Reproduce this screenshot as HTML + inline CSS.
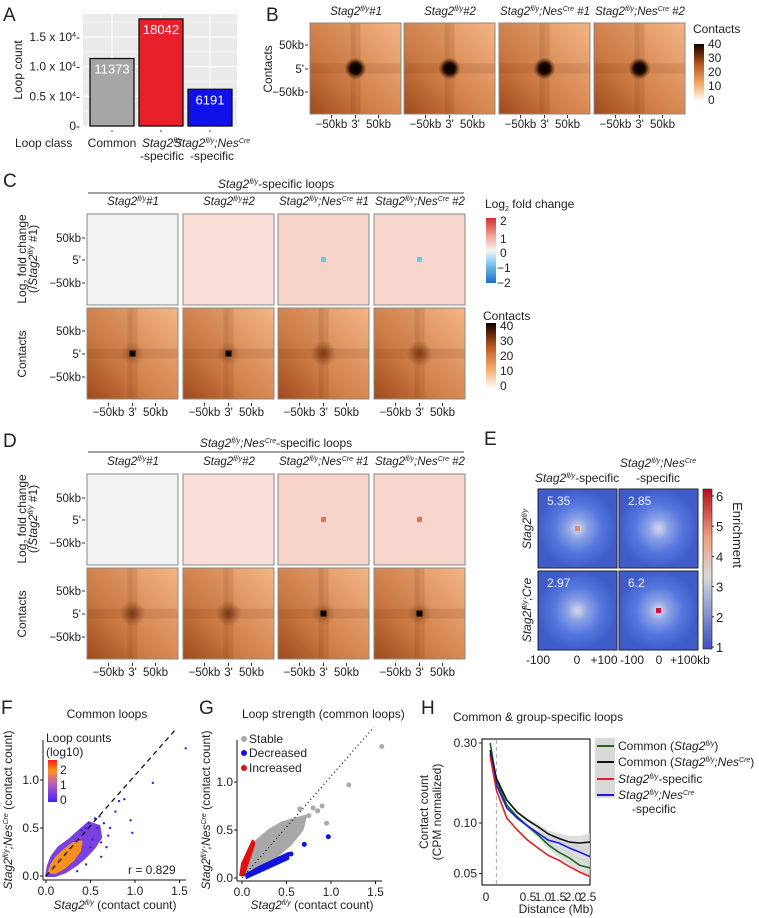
<!DOCTYPE html>
<html><head><meta charset="utf-8"><style>
html,body{margin:0;padding:0;background:#fff;}
svg{display:block;font-family:"Liberation Sans",Arial,sans-serif;}
.sp{font-size:7px;}
.it{font-style:italic;}
</style></head><body>
<svg id="fig" width="759" height="918" viewBox="0 0 759 918" xmlns="http://www.w3.org/2000/svg">
<defs>
<linearGradient id="gContact" x1="0" y1="1" x2="1" y2="0">
<stop offset="0" stop-color="#a24c1f"/><stop offset="0.35" stop-color="#d07d45"/><stop offset="1" stop-color="#f3b687"/></linearGradient>
<radialGradient id="gDot"><stop offset="0" stop-color="#000"/><stop offset="0.5" stop-color="#1a0800"/><stop offset="1" stop-color="#5a2408" stop-opacity="0"/></radialGradient>
<radialGradient id="gDotWeak"><stop offset="0" stop-color="#6a2a0a" stop-opacity="0.8"/><stop offset="1" stop-color="#7a3510" stop-opacity="0"/></radialGradient>
<radialGradient id="gE"><stop offset="0" stop-color="#d8dcec"/><stop offset="0.25" stop-color="#8ea3e6"/><stop offset="0.6" stop-color="#5677de"/><stop offset="1" stop-color="#3f5cc8"/></radialGradient>
<linearGradient id="gCB" x1="0" y1="1" x2="0" y2="0"><stop offset="0" stop-color="#fff8f0"/><stop offset="0.3" stop-color="#f0a868"/><stop offset="0.6" stop-color="#c0622a"/><stop offset="0.85" stop-color="#5a2208"/><stop offset="1" stop-color="#0a0300"/></linearGradient>
<linearGradient id="gFC" x1="0" y1="1" x2="0" y2="0"><stop offset="0" stop-color="#1f6fc0"/><stop offset="0.25" stop-color="#6cb8ea"/><stop offset="0.5" stop-color="#f6f6f6"/><stop offset="0.75" stop-color="#f09a8a"/><stop offset="1" stop-color="#d03030"/></linearGradient>
<linearGradient id="gEnr" x1="0" y1="1" x2="0" y2="0"><stop offset="0" stop-color="#3a4fc2"/><stop offset="0.45" stop-color="#d8d8d8"/><stop offset="0.7" stop-color="#f0a080"/><stop offset="1" stop-color="#b01020"/></linearGradient>
<linearGradient id="gLC" x1="0" y1="1" x2="0" y2="0"><stop offset="0" stop-color="#4020ff"/><stop offset="0.45" stop-color="#c060b0"/><stop offset="0.75" stop-color="#ff9020"/><stop offset="1" stop-color="#ff2010"/></linearGradient>
</defs>

<!-- ===== Panel A ===== -->
<g font-size="12" fill="#222">
<text x="3" y="21" font-size="19">A</text>
<rect x="83" y="14" width="154" height="113" fill="#ebebeb"/>
<g id="aGrid"></g>
<g id="aBars"></g>
<text transform="translate(22,70) rotate(-90)" text-anchor="middle">Loop count</text>
<g id="aTicks" text-anchor="end"></g>
<text x="15" y="147">Loop class</text>
<text x="112" y="147" text-anchor="middle">Common</text>
<text x="162" y="147" text-anchor="middle" class="it">Stag2<tspan class="sp" dy="-4">fl/y</tspan></text>
<text x="162" y="160" text-anchor="middle">-specific</text>
<text x="212" y="147" text-anchor="middle" class="it">Stag2<tspan class="sp" dy="-4">fl/y</tspan><tspan dy="4">;Nes</tspan><tspan class="sp" dy="-4">Cre</tspan></text>
<text x="212" y="160" text-anchor="middle">-specific</text>
</g>

<!-- ===== Panel B ===== -->
<g font-size="12" fill="#222">
<text x="266" y="21" font-size="19">B</text>
<text transform="translate(272,69) rotate(-90)" text-anchor="middle">Contacts</text>
<text x="693" y="33">Contacts</text>
<rect x="694" y="44" width="10" height="56" fill="url(#gCB)"/>
<g font-size="12">
<text x="708" y="48">40</text><text x="708" y="62">30</text><text x="708" y="76">20</text><text x="708" y="90">10</text><text x="708" y="104">0</text></g>
</g>

<!-- ===== Panel C ===== -->
<g font-size="12" fill="#222">
<text x="3" y="187" font-size="19">C</text>
<text x="276" y="188" text-anchor="middle"><tspan class="it">Stag2</tspan><tspan class="sp it" dy="-4">fl/y</tspan><tspan dy="4">-specific loops</tspan></text>
<line x1="88" y1="193" x2="464" y2="193" stroke="#444" stroke-width="1"/>
<text transform="translate(26,259) rotate(-90)" text-anchor="middle">Log<tspan class="sp" dy="3">2</tspan><tspan dy="-3"> fold change</tspan></text>
<text transform="translate(37,259) rotate(-90)" text-anchor="middle">(/<tspan class="it">Stag2</tspan><tspan class="sp it" dy="-4">fl/y</tspan><tspan dy="4"> #1)</tspan></text>
<text transform="translate(26,354) rotate(-90)" text-anchor="middle">Contacts</text>
<text x="485" y="208">Log<tspan class="sp" dy="3">2</tspan><tspan dy="-3"> fold change</tspan></text>
<rect x="486" y="218" width="10" height="65" fill="url(#gFC)"/>
<g><text x="500" y="225">2</text><text x="500" y="243">1</text><text x="500" y="257">0</text><text x="497" y="272">−1</text><text x="497" y="287">−2</text></g>
<text x="483" y="320">Contacts</text>
<rect x="486" y="323" width="10" height="64" fill="url(#gCB)"/>
<g><text x="500" y="330">40</text><text x="500" y="345">30</text><text x="500" y="360">20</text><text x="500" y="375">10</text><text x="500" y="390">0</text></g>
</g>

<!-- ===== Panel D ===== -->
<g font-size="12" fill="#222">
<text x="3" y="447" font-size="19">D</text>
<text x="276" y="447" text-anchor="middle"><tspan class="it">Stag2</tspan><tspan class="sp it" dy="-4">fl/y</tspan><tspan class="it" dy="4">;Nes</tspan><tspan class="sp it" dy="-4">Cre</tspan><tspan dy="4">-specific loops</tspan></text>
<line x1="88" y1="452" x2="464" y2="452" stroke="#444" stroke-width="1"/>
<text transform="translate(26,519) rotate(-90)" text-anchor="middle">Log<tspan class="sp" dy="3">2</tspan><tspan dy="-3"> fold change</tspan></text>
<text transform="translate(37,519) rotate(-90)" text-anchor="middle">(/<tspan class="it">Stag2</tspan><tspan class="sp it" dy="-4">fl/y</tspan><tspan dy="4"> #1)</tspan></text>
<text transform="translate(26,614) rotate(-90)" text-anchor="middle">Contacts</text>
</g>

<!-- ===== Panel E ===== -->
<g font-size="12" fill="#222">
<text x="484" y="445" font-size="19">E</text>
<text x="577" y="482" text-anchor="middle"><tspan class="it">Stag2</tspan><tspan class="sp it" dy="-4">fl/y</tspan><tspan dy="4">-specific</tspan></text>
<text x="658" y="467" text-anchor="middle" class="it">Stag2<tspan class="sp" dy="-4">fl/y</tspan><tspan dy="4">;Nes</tspan><tspan class="sp" dy="-4">Cre</tspan></text>
<text x="658" y="482" text-anchor="middle">-specific</text>
<text transform="translate(531,529) rotate(-90)" text-anchor="middle" class="it">Stag2<tspan class="sp" dy="-4">fl/y</tspan></text>
<text transform="translate(531,610) rotate(-90)" text-anchor="middle" class="it">Stag2f<tspan class="sp" dy="-4">l/y</tspan><tspan dy="4">;Cre</tspan></text>
<g text-anchor="middle"><text x="538" y="664">-100</text><text x="577" y="664">0</text><text x="604" y="664">+100</text><text x="632" y="664">-100</text><text x="659" y="664">0</text><text x="690" y="664">+100kb</text></g>
<rect x="703" y="489" width="9" height="160" fill="url(#gEnr)" stroke="#222" stroke-width="0.6"/>
<g id="eTicks"></g>
<text transform="translate(733,535) rotate(90)" text-anchor="middle" font-size="13">Enrichment</text>
</g>

<!-- ===== Panel F ===== -->
<g font-size="12" fill="#222">
<text x="1" y="714" font-size="19">F</text>
<text x="107" y="718" text-anchor="middle">Common loops</text>
<g id="fPlot"></g>
<text x="46" y="742">Loop counts</text>
<text x="46" y="756">(log10)</text>
<rect x="48" y="760" width="9" height="42" fill="url(#gLC)"/>
<g><text x="60" y="774">2</text><text x="60" y="789">1</text><text x="60" y="804">0</text></g>
<text x="128" y="874">r = 0.829</text>
<text x="115" y="909" text-anchor="middle"><tspan class="it">Stag2</tspan><tspan class="sp it" dy="-4">fl/y</tspan><tspan dy="4"> (contact count)</tspan></text>
<text transform="translate(12,810) rotate(-90)" text-anchor="middle"><tspan class="it">Stag2</tspan><tspan class="sp it" dy="-4">fl/y</tspan><tspan class="it" dy="4">;Nes</tspan><tspan class="sp it" dy="-4">Cre</tspan><tspan dy="4"> (contact count)</tspan></text>
</g>

<!-- ===== Panel G ===== -->
<g font-size="12" fill="#222">
<text x="199" y="714" font-size="19">G</text>
<text x="242" y="718">Loop strength (common loops)</text>
<g id="gPlot"></g>
<g>
<circle cx="244" cy="739" r="3" fill="#aaa"/><text x="249" y="743">Stable</text>
<circle cx="244" cy="753" r="3" fill="#1010e0"/><text x="249" y="757">Decreased</text>
<circle cx="244" cy="768" r="3" fill="#e01010"/><text x="249" y="772">Increased</text></g>
<text x="312" y="909" text-anchor="middle"><tspan class="it">Stag2</tspan><tspan class="sp it" dy="-4">fl/y</tspan><tspan dy="4"> (contact count)</tspan></text>
<text transform="translate(210,810) rotate(-90)" text-anchor="middle"><tspan class="it">Stag2</tspan><tspan class="sp it" dy="-4">fl/y</tspan><tspan class="it" dy="4">;Nes</tspan><tspan class="sp it" dy="-4">Cre</tspan><tspan dy="4"> (contact count)</tspan></text>
</g>

<!-- ===== Panel H ===== -->
<g font-size="12" fill="#222">
<text x="421" y="714" font-size="19">H</text>
<text x="453" y="721">Common &amp; group-specific loops</text>
<text transform="translate(428,812) rotate(-90)" text-anchor="middle">Contact count</text>
<text transform="translate(441,812) rotate(-90)" text-anchor="middle">(CPM normalized)</text>
<g id="hPlot"></g>
<g text-anchor="middle"><text x="486" y="901">0</text><text x="528" y="901">0.5</text><text x="543" y="901">1.0</text><text x="558" y="901">1.5</text><text x="573" y="901">2.0</text><text x="588" y="901">2.5</text></g>
<text x="556" y="913" text-anchor="middle">Distance (Mb)</text>
<rect x="595" y="738" width="20" height="60" fill="#d9d9d9"/>
<g>
<line x1="597" y1="746" x2="614" y2="746" stroke="#1a6b1a" stroke-width="2"/><text x="618" y="750">Common (<tspan class="it">Stag2</tspan><tspan class="sp it" dy="-4">fl/y</tspan><tspan dy="4">)</tspan></text>
<line x1="597" y1="762" x2="614" y2="762" stroke="#111" stroke-width="2"/><text x="618" y="766">Common (<tspan class="it">Stag2</tspan><tspan class="sp it" dy="-4">fl/y</tspan><tspan class="it" dy="4">;Nes</tspan><tspan class="sp it" dy="-4">Cre</tspan><tspan dy="4">)</tspan></text>
<line x1="597" y1="779" x2="614" y2="779" stroke="#e02020" stroke-width="2"/><text x="618" y="783"><tspan class="it">Stag2</tspan><tspan class="sp it" dy="-4">fl/y</tspan><tspan dy="4">-specific</tspan></text>
<line x1="597" y1="795" x2="614" y2="795" stroke="#1a1ae0" stroke-width="2"/><text x="618" y="799" class="it">Stag2<tspan class="sp" dy="-4">fl/y</tspan><tspan dy="4">;Nes</tspan><tspan class="sp" dy="-4">Cre</tspan></text>
<text x="632" y="813">-specific</text></g>
</g>
</svg>
<script>
const NS='http://www.w3.org/2000/svg';
function mk(tag,attrs,parent){const e=document.createElementNS(NS,tag);for(const k in attrs)e.setAttribute(k,attrs[k]);parent.appendChild(e);return e;}
const fig=document.getElementById('fig');

/* ---------- Panel A data ---------- */
const aCategories=['Common','Stag2fl/y-specific','Stag2fl/y;NesCre-specific'];
const aValues=[11373,18042,6191];
const aColors=['#a6a6a6','#e8202a','#1010e8'];
const aTickValues=[0,5000,10000,15000];
const aTickLabels=['0','0.5 x 10','1.0 x 10','1.5 x 10'];
const aY=v=>126-v*(89/15000);
const aX=i=>90+i*49;
const aGrid=document.getElementById('aGrid');
[2500,7500,12500,17500].forEach(v=>{const l=mk('line',{x1:83,x2:237,y1:aY(v),y2:aY(v),stroke:'#f5f5f5','stroke-width':0.6},aGrid);

});
aTickValues.forEach(v=>{const l=mk('line',{x1:83,x2:237,y1:aY(v),y2:aY(v),stroke:'#fff','stroke-width':1.1},aGrid);

});
aValues.forEach((v,i)=>{const l=mk('line',{x1:aX(i)+22,x2:aX(i)+22,y1:14,y2:127,stroke:'#fff','stroke-width':1.1},aGrid);

});
const aBars=document.getElementById('aBars');
aValues.forEach((v,i)=>{
 const r=mk('rect',{x:aX(i),y:aY(v),width:44,height:aY(0)-aY(v),fill:aColors[i],stroke:'#111','stroke-width':1.3},aBars);
 
 
 const t=mk('text',{x:aX(i)+22,y:aY(v)+15,'text-anchor':'middle',fill:'#fff','font-size':13},aBars);
 t.textContent=String(v);
 
 
 const tk=mk('line',{x1:aX(i)+22,x2:aX(i)+22,y1:130,y2:132,stroke:'#444'},aBars);
 
 
});
const aTicks=document.getElementById('aTicks');
aTickValues.forEach((v,i)=>{
 const t=mk('text',{x:80,y:aY(v)+4},aTicks);
 t.innerHTML=aTickLabels[i]+(i>0?'<tspan class="sp" dy="-4">4</tspan><tspan dy="4">-</tspan>':'-');
 
 
});

/* ---------- heatmap helpers ---------- */
function contactMap(x,y,w,h,dot,name){
 const g=mk('g',{},fig);
 
 
 mk('rect',{x:x,y:y,width:w,height:h,fill:'url(#gContact)'},g);
 const cx=x+w/2,cy=y+h/2;
 mk('rect',{x:x,y:cy-5,width:w,height:10,fill:'#7a3510',opacity:0.14},g);
 mk('rect',{x:cx-5,y:y,width:10,height:h,fill:'#7a3510',opacity:0.14},g);
 mk('rect',{x:x,y:y,width:w/2,height:h,fill:'#6a2a08',opacity:0.06},g);
 if(dot==='big'){mk('circle',{cx:cx,cy:cy,r:11,fill:'url(#gDot)'},g);}
 else if(dot==='small'){mk('circle',{cx:cx,cy:cy,r:12,fill:'url(#gDotWeak)',opacity:0.6},g);mk('rect',{x:cx-3,y:cy-3,width:6,height:6,fill:'#080200'},g);}
 else {mk('circle',{cx:cx,cy:cy,r:13,fill:'url(#gDotWeak)'},g);}
 mk('rect',{x:x,y:y,width:w,height:h,fill:'none',stroke:'#888','stroke-width':1},g);
}
function fcMap(x,y,w,h,base,dotColor,name){
 const g=mk('g',{},fig);
 
 
 mk('rect',{x:x,y:y,width:w,height:h,fill:base,stroke:'#888','stroke-width':1},g);
 if(dotColor)mk('rect',{x:x+w/2-2.5,y:y+h/2-2.5,width:5,height:5,fill:dotColor},g);
}
function title(x,y,idx){
 const t=mk('text',{x:x,y:y,'text-anchor':'middle','font-size':11.5,'font-style':'italic',fill:'#222'},fig);
 t.innerHTML=idx<2?'Stag2<tspan class="sp" dy="-4">fl/y</tspan><tspan dy="4">#'+(idx+1)+'</tspan>':'Stag2<tspan class="sp" dy="-4">fl/y</tspan><tspan dy="4">;Nes</tspan><tspan class="sp" dy="-4">Cre</tspan><tspan dy="4"> #'+(idx-1)+'</tspan>';
 
 
}
function yTicks(xr,ys){
 const labs=['50kb',"5'",'−50kb'];
 ys.forEach((yy,i)=>{const t=mk('text',{x:xr-4,y:yy+4,'text-anchor':'end','font-size':11.5,fill:'#222'},fig);t.textContent=labs[i];
 
 
 mk('line',{x1:xr-3,x2:xr,y1:yy,y2:yy,stroke:'#333'},fig);});
}
function xTicks(px,w,yy){
 const cx=px+w/2;const labs=['−50kb',"3'",'50kb'];const offs=[-24,0,23];
 offs.forEach((o,i)=>{const t=mk('text',{x:cx+o,y:yy,'text-anchor':'middle','font-size':11.5,fill:'#222'},fig);t.textContent=labs[i];
 
 
 mk('line',{x1:cx+o,x2:cx+o,y1:yy-13,y2:yy-10,stroke:'#333'},fig);});
}

/* ---------- Panel B ---------- */
const bX=[310,404,499,594];
bX.forEach((x,i)=>{contactMap(x,23,91,91,'big','contact-map-b-'+i);title(x+46,15,i);xTicks(x,91,128);});
yTicks(308,[45,69,92]);

/* ---------- Panel C & D ---------- */
const cX=[87,183,278,374];
const cFcBase=['#f2f2f2','#f8e0d8','#f6d4ca','#f6d6cc'];
const cFcDot=[null,null,'#70c8e8','#70c8e8'];
const dFcDot=[null,null,'#e8705a','#e8705a'];
const cContactDot=['small','small','weak','weak'];
const dContactDot=['weak','weak','small','small'];
[[0,cFcDot,cContactDot,'c'],[260,dFcDot,dContactDot,'d']].forEach(([off,fcd,cd,p])=>{
 cX.forEach((x,i)=>{
  title(x+46,205+off,i);
  fcMap(x,214+off,91,91,cFcBase[i],fcd[i],'fold-change-map-'+p+'-'+i);
  contactMap(x,308+off,91,91,cd[i],'contact-map-'+p+'-'+i);
  xTicks(x,91,416+off);
 });
 yTicks(85,[238+off,260+off,283+off]);
 yTicks(85,[331+off,354+off,377+off]);
});

/* ---------- Panel E ---------- */
const eValues=[5.35,2.85,2.97,6.2];
const eDotColors=['#e88a70','#c8c8d8','#c8c8d0','#c0182a'];
const ePos=[[538,489],[619,489],[538,571],[619,571]];
eValues.forEach((v,i)=>{
 const [x,y]=ePos[i];
 const g=mk('g',{},fig);
 
 
 mk('rect',{x:x,y:y,width:79,height:79,fill:'url(#gE)',stroke:'#223',"stroke-width":1},g);
 mk('rect',{x:x+37,y:y+37,width:5,height:5,fill:eDotColors[i],opacity:v>4?1:0.5},g);
 const t=mk('text',{x:x+9,y:y+16,fill:'#eef','font-size':12},g);
 t.textContent=String(v);
 
 
});
const eTickVals=[1,2,3,4,5,6];
const eTicks=document.getElementById('eTicks');
eTickVals.forEach(v=>{const yy=647-(v-1)*(151/5);
 const t=mk('text',{x:716,y:yy+5,'font-size':13,fill:'#222'},eTicks);t.textContent=String(v);
 
 
 mk('line',{x1:712,x2:714,y1:yy,y2:yy,stroke:'#222'},eTicks);});

/* ---------- scatter helpers ---------- */
function axes(g,x0,y0,x1,y1,xT,yT,xs,ys){
 mk('line',{x1:x0,y1:y0,x2:x0,y2:y1,stroke:'#111','stroke-width':1},g);
 mk('line',{x1:x0,y1:y1,x2:x1,y2:y1,stroke:'#111','stroke-width':1},g);
 xT.forEach(v=>{mk('line',{x1:xs(v),x2:xs(v),y1:y1,y2:y1+3,stroke:'#111'},g);const t=mk('text',{x:xs(v),y:y1+15,'text-anchor':'middle','font-size':12,fill:'#222'},g);t.textContent=v.toFixed(1);
 
 });
 yT.forEach(v=>{mk('line',{x1:x0-3,x2:x0,y1:ys(v),y2:ys(v),stroke:'#111'},g);const t=mk('text',{x:x0-4,y:ys(v)+4,'text-anchor':'end','font-size':12,fill:'#222'},g);t.textContent=v.toFixed(1);
 
 });
}
function poly(g,xs,ys,xsArr,ysArr,fill,name){
 const pts=xsArr.map((v,i)=>xs(v)+','+ys(ysArr[i])).join(' ');
 const p=mk('polygon',{points:pts,fill:fill,stroke:fill,'stroke-width':2,'stroke-linejoin':'round'},g);
 
 
 return p;
}

/* ---------- Panel F ---------- */
const fTicks=[0,0.5,1.0,1.5];
const fCloudX=[0.0,0.02,0.06,0.14,0.26,0.38,0.48,0.6,0.62,0.55,0.45,0.35,0.22,0.1];
const fCloudY=[0.0,0.1,0.2,0.3,0.38,0.48,0.56,0.52,0.4,0.3,0.2,0.12,0.04,0.0];
const fCoreX=[0.03,0.06,0.12,0.2,0.3,0.4,0.38,0.3,0.2,0.1];
const fCoreY=[0.04,0.12,0.2,0.27,0.34,0.36,0.26,0.16,0.08,0.03];
const fOutX=[1.57,1.2,0.95,0.97,0.88,0.82,0.78,0.65,0.7,0.6,0.55,0.52,0.62,0.58,0.48,0.45,0.5,0.4,0.45,0.35,0.62,0.68,0.72];
const fOutY=[1.33,0.97,0.58,0.45,0.80,0.78,0.67,0.55,0.42,0.62,0.60,0.38,0.35,0.50,0.55,0.50,0.30,0.48,0.12,0.05,0.2,0.3,0.5];
const fx=v=>46+v*89, fy=v=>876-v*96;
const fPlot=document.getElementById('fPlot');
axes(fPlot,43,740,186,880,fTicks,[0,0.5,1.0],fx,fy);
poly(fPlot,fx,fy,fCloudX,fCloudY,'#7a40e0','scatter-cloud-halo');
poly(fPlot,fx,fy,fCoreX,fCoreY,'#f59020','scatter-cloud-core');
fOutX.forEach((v,i)=>{const c=mk('circle',{cx:fx(v),cy:fy(fOutY[i]),r:1.2,fill:'#3a20e0'},fPlot);
 
 });
const fl=mk('line',{x1:fx(0),y1:fy(0),x2:fx(1.45),y2:fy(1.52),stroke:'#111','stroke-width':1.3,'stroke-dasharray':'5,4'},fPlot);



/* ---------- Panel G ---------- */
const gStableX=[0.0,0.05,0.15,0.3,0.45,0.6,0.72,0.68,0.55,0.45,0.3,0.1];
const gStableY=[0.02,0.2,0.38,0.5,0.58,0.62,0.65,0.5,0.35,0.27,0.15,0.03];
const gIncX=[-0.02,0.02,0.14,0.12,0.0];
const gIncY=[0.03,0.03,0.36,0.39,0.15];
const gDecX=[0.05,0.52,0.52,0.2,0.05];
const gDecY=[0.0,0.2,0.26,0.12,0.04];
const gOutX=[1.57,1.2,0.9,0.8,0.95,0.85,0.75,0.65];
const gOutY=[1.37,0.97,0.75,0.73,0.57,0.7,0.65,0.72];
const gDecOutX=[0.97,0.7,0.55];
const gDecOutY=[0.43,0.35,0.25];
const gx=v=>242+v*89, gy=v=>878-v*96;
const gPlot=document.getElementById('gPlot');
axes(gPlot,237,740,382,881,fTicks,[0,0.5,1.0],gx,gy);
poly(gPlot,gx,gy,gStableX,gStableY,'#a8a8a8','stable-cloud');
poly(gPlot,gx,gy,gIncX,gIncY,'#e01010','increased-cloud');
poly(gPlot,gx,gy,gDecX,gDecY,'#1010e0','decreased-cloud');
gOutX.forEach((v,i)=>{const c=mk('circle',{cx:gx(v),cy:gy(gOutY[i]),r:2.5,fill:'#aaa'},gPlot);
 
 });
gDecOutX.forEach((v,i)=>{const c=mk('circle',{cx:gx(v),cy:gy(gDecOutY[i]),r:2.5,fill:'#1010e0'},gPlot);
 
 });
const gl=mk('line',{x1:gx(0),y1:gy(0),x2:gx(1.48),y2:gy(1.57),stroke:'#111','stroke-width':1.3,'stroke-dasharray':'1,3'},gPlot);



/* ---------- Panel H ---------- */
const hDist=[0.1,0.25,0.5,0.75,1.0,1.25,1.5,1.75,2.0,2.25,2.5];
const hBlack=[0.272,0.185,0.137,0.116,0.104,0.095,0.086,0.081,0.077,0.076,0.077];
const hGreen=[0.300,0.180,0.128,0.109,0.096,0.085,0.074,0.067,0.062,0.056,0.054];
const hBlue=[0.260,0.169,0.123,0.107,0.096,0.087,0.079,0.076,0.071,0.067,0.063];
const hRed=[0.250,0.157,0.107,0.091,0.079,0.071,0.064,0.060,0.055,0.051,0.048];
const hYTicks=[0.05,0.10,0.30];
const hx=d=>486+d*41.6;
const hy=v=>743+(-0.5229-Math.log10(v))*167.7;
const hPlot=document.getElementById('hPlot');
const fr=mk('rect',{x:482,y:739,width:108,height:146,fill:'none',stroke:'#222','stroke-width':1.2},hPlot);


hYTicks.forEach(v=>{mk('line',{x1:479,x2:482,y1:hy(v),y2:hy(v),stroke:'#222'},hPlot);
 const t=mk('text',{x:477,y:hy(v)+4,'text-anchor':'end','font-size':12,fill:'#222'},hPlot);t.textContent=v.toFixed(2);
 
 });
[hBlack,hGreen,hBlue].forEach(arr=>{
 const up=hDist.map((d,i)=>hx(d)+','+hy(arr[i]*(1+0.01+0.012*i*i/10))).join(' ');
 const dn=hDist.slice().reverse().map((d,j)=>{const i=hDist.length-1-j;return hx(d)+','+hy(arr[i]*(1-0.01-0.012*i*i/10));}).join(' ');
 const p=mk('polygon',{points:up+' '+dn,fill:'#d0d0d0',opacity:0.7},hPlot);
 
 
});
const dl=mk('line',{x1:hx(0.25),x2:hx(0.25),y1:740,y2:884,stroke:'#aaa','stroke-width':1,'stroke-dasharray':'4,3'},hPlot);


[[hGreen,'#1a6b1a','line-common-stag2'],[hBlack,'#111','line-common-nescre'],[hBlue,'#1a1ae0','line-nescre-specific'],[hRed,'#e02020','line-stag2-specific']].forEach(([arr,c,n])=>{
 const p=mk('polyline',{points:hDist.map((d,i)=>hx(d)+','+hy(arr[i])).join(' '),fill:'none',stroke:c,'stroke-width':1.6,'stroke-linejoin':'round'},hPlot);
 
 
});
</script>
</body></html>
